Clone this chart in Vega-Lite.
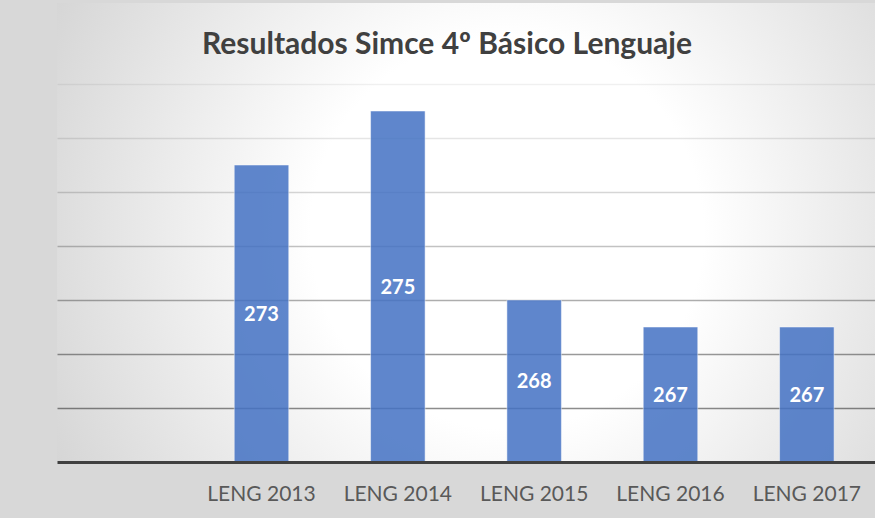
{
  "$schema": "https://vega.github.io/schema/vega-lite/v6.json",
  "width": 818,
  "height": 459,
  "autosize": {"type": "none"},
  "padding": {"left": 57, "top": 3, "right": 0, "bottom": 56},
  "background": "#d8d8d8",
  "view": {
    "stroke": null,
    "fill": {
      "gradient": "radial",
      "x1": 0.55, "y1": 0.5, "r1": 0,
      "x2": 0.55, "y2": 0.5, "r2": 0.8,
      "stops": [
        {"offset": 0, "color": "#ffffff"},
        {"offset": 0.3, "color": "#ffffff"},
        {"offset": 1, "color": "#c2c2c2"}
      ]
    }
  },
  "title": {
    "text": "Resultados Simce 4º Básico Lenguaje",
    "font": "Lato",
    "fontSize": 30,
    "fontWeight": "bold",
    "color": "#404040",
    "anchor": "middle",
    "frame": "group",
    "baseline": "alphabetic",
    "offset": -52,
    "dx": -19,
    "dy": 29
  },
  "data": {
    "values": [
      {"categoria": "LENG 2013", "puntaje": 273},
      {"categoria": "LENG 2014", "puntaje": 275},
      {"categoria": "LENG 2015", "puntaje": 268},
      {"categoria": "LENG 2016", "puntaje": 267},
      {"categoria": "LENG 2017", "puntaje": 267}
    ]
  },
  "transform": [
    {"calculate": "(datum.puntaje + 262) / 2", "as": "medio"}
  ],
  "encoding": {
    "x": {
      "field": "categoria",
      "type": "nominal",
      "sort": null,
      "scale": {
        "domain": ["", "LENG 2013", "LENG 2014", "LENG 2015", "LENG 2016", "LENG 2017"],
        "paddingInner": 0.6,
        "paddingOuter": 0.3
      },
      "axis": {
        "title": null,
        "ticks": false,
        "labelAngle": 0,
        "domain": true,
        "domainColor": "#404040",
        "domainWidth": 3,
        "labelFont": "Lato",
        "labelFontSize": 21,
        "labelColor": "#595959",
        "labelBaseline": "alphabetic",
        "labelPadding": 38,
        "grid": false,
        "zindex": 1
      }
    }
  },
  "layer": [
    {
      "mark": {"type": "bar", "color": "#4472c4", "opacity": 0.85, "stroke": "#ffffff", "strokeOpacity": 0.5, "strokeWidth": 1},
      "encoding": {
        "y": {
          "field": "puntaje",
          "type": "quantitative",
          "scale": {"domain": [262, 279], "zero": false, "nice": false},
          "axis": {
            "title": null,
            "labels": false,
            "ticks": false,
            "domain": false,
            "grid": true,
            "values": [264, 266, 268, 270, 272, 274, 276],
            "gridColor": "#000000",
            "gridWidth": 1.5,
            "gridOpacity": {
              "condition": [
                {"test": "datum.value <= 264", "value": 0.45},
                {"test": "datum.value <= 266", "value": 0.4},
                {"test": "datum.value <= 268", "value": 0.32},
                {"test": "datum.value <= 270", "value": 0.24},
                {"test": "datum.value <= 272", "value": 0.16},
                {"test": "datum.value <= 274", "value": 0.1}
              ],
              "value": 0.06
            }
          }
        },
        "y2": {"datum": 262}
      }
    },
    {
      "mark": {"type": "text", "color": "#ffffff", "font": "Lato", "fontSize": 20, "fontWeight": "bold", "baseline": "middle", "align": "center", "dy": 1},
      "encoding": {
        "y": {"field": "medio", "type": "quantitative"},
        "text": {"field": "puntaje", "type": "quantitative"}
      }
    }
  ]
}
